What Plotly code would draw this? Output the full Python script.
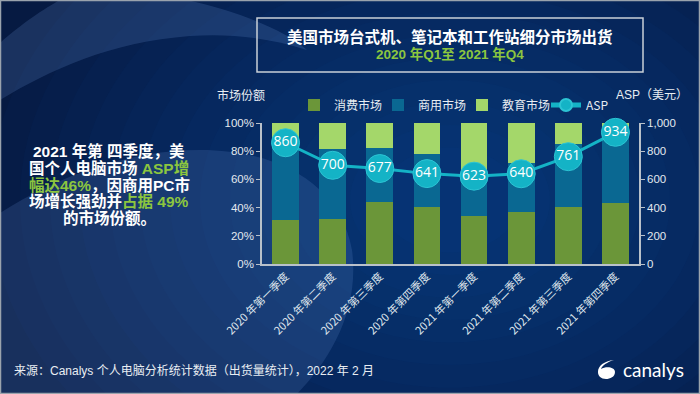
import plotly.graph_objects as go

quarters = ["2020 年第一季度", "2020 年第二季度", "2020 年第三季度", "2020 年第四季度",
            "2021 年第一季度", "2021 年第二季度", "2021 年第三季度", "2021 年第四季度"]
consumer = [0.314, 0.317, 0.440, 0.402, 0.338, 0.371, 0.402, 0.433]
commercial = [0.566, 0.496, 0.383, 0.376, 0.327, 0.345, 0.449, 0.542]
education = [0.120, 0.187, 0.177, 0.222, 0.335, 0.284, 0.149, 0.025]
asp = [860, 700, 677, 641, 623, 640, 761, 934]

W, H = 700, 394
L, R, T, B = 262, 61, 123, 130
PW, PH = W - L - R, H - T - B

def px(x):
    return (x - L) / PW

def py(y):
    return (H - B - y) / PH

FONT = "Liberation Sans, Noto Sans CJK SC, sans-serif"
CJK = "Noto Sans CJK SC, Liberation Sans, sans-serif"
GREEN_TXT = "#8cc63f"

fig = go.Figure()
fig.add_trace(go.Bar(x=quarters, y=consumer, name="消费市场", marker_color="#6b9639", marker_line_width=0))
fig.add_trace(go.Bar(x=quarters, y=commercial, name="商用市场", marker_color="#0a6892", marker_line_width=0))
fig.add_trace(go.Bar(x=quarters, y=education, name="教育市场", marker_color="#a4d76a", marker_line_width=0))
fig.add_trace(go.Scatter(
    x=quarters, y=asp, name="ASP", yaxis="y2", mode="lines+markers+text",
    line=dict(color="#14b3c6", width=3),
    marker=dict(size=28, color="#14b3c6", line=dict(color="#2cc4d4", width=1)),
    text=[str(v) for v in asp], textposition="middle center",
    textfont=dict(color="white", size=14, family="Open Sans, Liberation Sans"),
    cliponaxis=False,
))

shapes = []
# smooth radial glow
n = 14
for i in range(n):
    r = 460 - i * 30
    cx, cy = 450, 200
    shapes.append(dict(type="circle", xref="paper", yref="paper", layer="below",
                       x0=px(cx - r), x1=px(cx + r), y0=py(cy + r * 0.75), y1=py(cy - r * 0.75),
                       fillcolor="rgba(30,90,175,0.045)", line_width=0))

def P(x, y):
    return f"{px(x):.4f},{py(y):.4f}"

band = (f"M {P(0,43)} C {P(20,25)} {P(45,8)} {P(60,0)} L {P(187,0)} "
        f"C {P(240,12)} {P(285,30)} {P(307,50)} C {P(270,38)} {P(230,33)} {P(190,36)} "
        f"C {P(110,42)} {P(50,70)} {P(0,100)} Z")
shapes.append(dict(type="path", xref="paper", yref="paper", layer="below", path=band,
                   fillcolor="rgba(110,150,215,0.20)", line_width=0))
blob = (f"M {P(0,213)} C {P(60,175)} {P(130,150)} {P(200,150)} "
        f"C {P(280,150)} {P(340,185)} {P(352,250)} C {P(360,310)} {P(330,360)} {P(297,394)} "
        f"L {P(0,394)} Z")
shapes.append(dict(type="path", xref="paper", yref="paper", layer="below", path=blob,
                   fillcolor="rgba(110,150,215,0.18)", line_width=0))
# title box
shapes.append(dict(type="rect", xref="paper", yref="paper", x0=px(257), x1=px(643), y0=py(72), y1=py(18),
                   line=dict(color="#c9d0d8", width=1.5), fillcolor="rgba(0,0,0,0)"))
# frame
shapes.append(dict(type="rect", xref="paper", yref="paper", x0=px(0.5), x1=px(699.5), y0=py(393.5), y1=py(0.5),
                   line=dict(color="#9aa3ad", width=1.5), fillcolor="rgba(0,0,0,0)"))
# canalys logo icon
logo = (f"M {P(598,372)} C {P(598,366)} {P(604,361)} {P(614,360)} "
        f"C {P(607,362)} {P(602,366)} {P(601,369)} "
        f"C {P(606,366)} {P(615,367)} {P(615,372)} "
        f"C {P(615,377)} {P(610,379)} {P(606,379)} C {P(601,379)} {P(598,376)} {P(598,372)} Z")
shapes.append(dict(type="path", xref="paper", yref="paper", path=logo, fillcolor="white", line_width=0))

ann = []
ann.append(dict(text="<b>美国市场台式机、笔记本和工作站细分市场出货</b>", x=px(450), y=py(36),
                font=dict(size=15.5, color="white", family=CJK)))
ann.append(dict(text="<b>2020 年Q1至 2021 年Q4</b>", x=px(450), y=py(54),
                font=dict(size=13.5, color=GREEN_TXT, family=FONT)))
left_lines = [
    "2021 年第 四季度，美",
    f"国个人电脑市场 <span style='color:{GREEN_TXT}'>ASP增</span>",
    f"<span style='color:{GREEN_TXT}'>幅达46%</span>，因商用PC市",
    f"场增长强劲并<span style='color:{GREEN_TXT}'>占据 49%</span>",
    "的市场份额。",
]
for i, t in enumerate(left_lines):
    ann.append(dict(text=f"<b>{t}</b>", x=px(109), y=py(151 + 16.8 * i),
                    font=dict(size=15.5, color="white", family=FONT)))
ann.append(dict(text="市场份额", x=px(241), y=py(95), font=dict(size=12, color="#e8edf2", family=CJK)))
ann.append(dict(text="ASP（美元）", x=px(652), y=py(95), font=dict(size=12, color="#e8edf2", family=FONT)))
ann.append(dict(text="来源：Canalys 个人电脑分析统计数据（出货量统计），2022 年 2 月", x=px(12), y=py(370),
                xanchor="left", font=dict(size=12, color="#e8edf2", family=FONT)))
ann.append(dict(text="canalys", x=px(621), y=py(369), xanchor="left",
                font=dict(size=19, color="white", family="Lato, Open Sans, sans-serif")))
for a in ann:
    a.setdefault("xref", "paper")
    a.setdefault("yref", "paper")
    a.setdefault("showarrow", False)
    a.setdefault("xanchor", "center")
    a.setdefault("yanchor", "middle")

axis_col = "#b9c1ca"
tick_font = dict(size=11.5, color="#e3e9ef", family=FONT)
fig.update_layout(
    width=W, height=H, margin=dict(l=L, r=R, t=T, b=B, autoexpand=False),
    paper_bgcolor="#061a42", plot_bgcolor="rgba(0,0,0,0)",
    barmode="stack", bargap=0.43,
    showlegend=True,
    legend=dict(orientation="h", x=px(294), y=py(105), xanchor="left", yanchor="middle",
                font=dict(size=12, color="#e8edf2", family=CJK), bgcolor="rgba(0,0,0,0)",
                itemsizing="constant", entrywidth=39, entrywidthmode="pixels", traceorder="normal"),
    xaxis=dict(showline=True, linecolor=axis_col, linewidth=1.5, ticks="", tickangle=-45,
               tickfont=dict(size=11, color="#dfe5ec", family=CJK), showgrid=False, zeroline=False,
               range=[-0.5, 7.5]),
    yaxis=dict(range=[0, 1], tickvals=[0, 0.2, 0.4, 0.6, 0.8, 1.0], tickformat=".0%",
               showline=True, linecolor=axis_col, linewidth=1.5, ticks="outside", ticklen=4,
               tickcolor=axis_col, tickfont=tick_font, showgrid=False, zeroline=False),
    yaxis2=dict(range=[0, 1000], tickvals=[0, 200, 400, 600, 800, 1000], tickformat=",d",
                overlaying="y", side="right", showline=True, linecolor=axis_col, linewidth=1.5,
                ticks="outside", ticklen=4, tickcolor=axis_col, tickfont=tick_font,
                showgrid=False, zeroline=False),
    shapes=shapes, annotations=ann,
)

fig.write_html("out.html", config={"displayModeBar": False},
               post_script="document.body.style.margin='0';document.body.style.overflow='hidden';")
